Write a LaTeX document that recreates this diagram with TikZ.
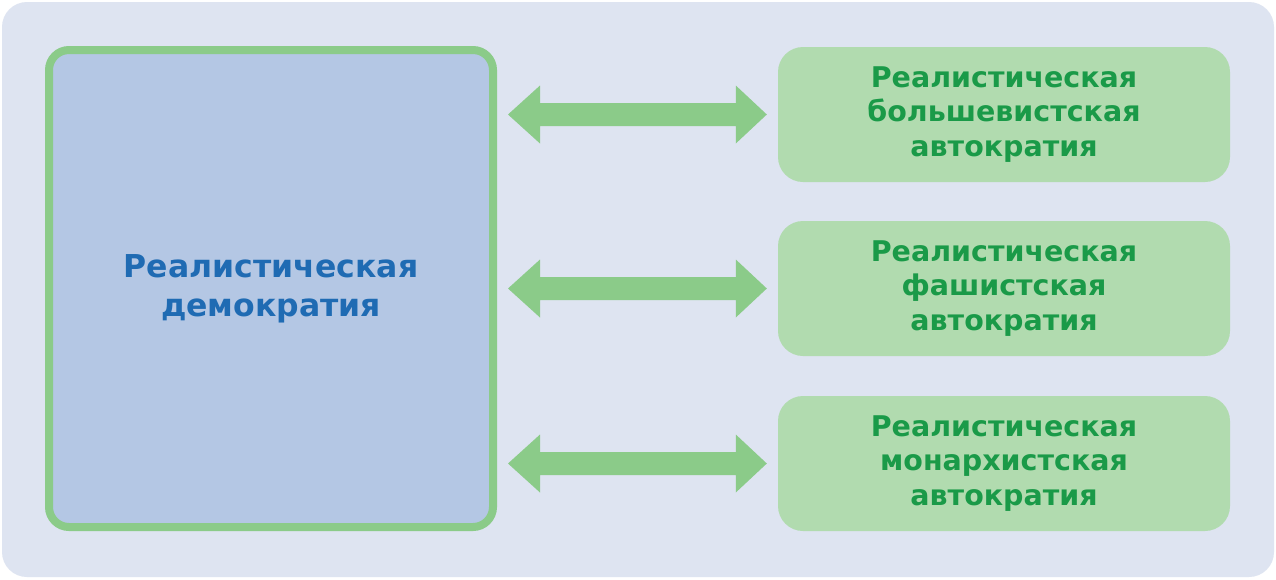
\documentclass[tikz,border=0pt]{standalone}
\usepackage{fontspec}
\setmainfont{DejaVu Sans}
\usetikzlibrary{calc}
\definecolor{bgpanel}{HTML}{DEE4F1}
\definecolor{leftfill}{HTML}{B4C7E4}
\definecolor{greenline}{HTML}{8BCB89}
\definecolor{rightfill}{HTML}{B1DBAF}
\definecolor{bluetext}{HTML}{1F6BB3}
\definecolor{greentext}{HTML}{1A9A48}
\tikzset{
  leftbox/.style={draw=greenline, line width=8pt, fill=leftfill, rounded corners=20pt,
    minimum width=444pt, minimum height=477pt, inner sep=0pt, align=center,
    text=bluetext, font=\fontsize{31.5}{39}\selectfont\bfseries},
  rightbox/.style={fill=rightfill, rounded corners=25pt,
    minimum width=452pt, minimum height=135pt, inner sep=0pt, align=center,
    text=greentext, font=\fontsize{28.5}{34.5}\selectfont\bfseries},
  arrowfill/.style={fill=greenline}
}
\newcommand\biarrow[2]{%
  \fill[arrowfill] (#1) -- ([shift={(32,-29)}]#1) -- ([shift={(32,-11.5)}]#1)
    -- ([shift={(-31,-11.5)}]#2) -- ([shift={(-31,-29)}]#2) -- (#2)
    -- ([shift={(-31,29)}]#2) -- ([shift={(-31,11.5)}]#2)
    -- ([shift={(32,11.5)}]#1) -- ([shift={(32,29)}]#1) -- cycle;}
\begin{document}
\begin{tikzpicture}[x=1pt,y=-1pt]
\useasboundingbox (0,0) rectangle (1276,579);
\fill[white] (0,0) rectangle (1276,579);
\fill[bgpanel, rounded corners=25pt] (2,2) rectangle (1274,577);
\node[leftbox] (L) at (271,288.5) {Реалистическая\\демократия};
\node[rightbox] (R1) at (1004,114.5) {Реалистическая\\большевистская\\автократия};
\node[rightbox] (R2) at (1004,288.5) {Реалистическая\\фашистская\\автократия};
\node[rightbox] (R3) at (1004,463.5) {Реалистическая\\монархистская\\автократия};
\foreach \r in {R1,R2,R3}{
  \coordinate (a\r) at ($(L.east |- \r.west)+(11,0)$);
  \coordinate (b\r) at ($(\r.west)+(-11,0)$);
  \biarrow{a\r}{b\r}
}
\end{tikzpicture}
\end{document}
